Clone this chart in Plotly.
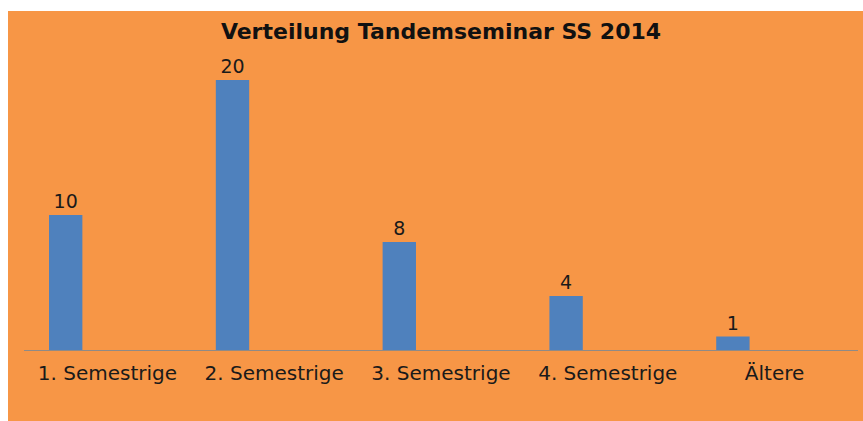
import plotly.graph_objects as go

categories = ["1. Semestrige", "2. Semestrige", "3. Semestrige", "4. Semestrige", "Ältere"]
values = [10, 20, 8, 4, 1]

ORANGE = "#F79646"
BLUE = "#4F81BD"

fig = go.Figure()
fig.add_trace(go.Bar(
    x=categories, y=values,
    marker=dict(color=BLUE, line=dict(width=0)),
    width=0.2, offset=-0.35,
    text=values, textposition="outside", cliponaxis=False,
    textfont=dict(family="DejaVu Sans", size=19, color="#1a1a1a"),
))

fig.update_layout(
    width=863, height=421,
    margin=dict(l=24, r=5, t=53, b=71),
    paper_bgcolor=ORANGE,
    plot_bgcolor=ORANGE,
    showlegend=False,
    title=dict(
        text="<b>Verteilung Tandemseminar SS 2014</b>",
        x=0.511, xanchor="center", y=1 - 31 / 421, yanchor="middle",
        font=dict(family="DejaVu Sans", size=22, color="#111111"),
    ),
    # white strips along the top and left edges
    shapes=[
        dict(type="rect", xref="paper", yref="paper", layer="below",
             x0=-0.05, x1=1.05, y0=1 + 42 / 297, y1=1.3,
             fillcolor="white", line=dict(width=0)),
        dict(type="rect", xref="paper", yref="paper", layer="below",
             x0=-0.05, x1=-16 / 834, y0=-0.5, y1=1.3,
             fillcolor="white", line=dict(width=0)),
    ],
)
fig.update_xaxes(
    showline=True, linecolor="#8f8a86", linewidth=1,
    ticks="outside", ticklen=5, tickcolor="rgba(0,0,0,0)",
    tickfont=dict(family="DejaVu Sans", size=20, color="#1a1a1a"),
    showgrid=False,
)
fig.update_yaxes(range=[0, 22], visible=False, showgrid=False)

fig.write_html("out.html", config={"displayModeBar": False},
               post_script="document.body.style.margin='0';")
